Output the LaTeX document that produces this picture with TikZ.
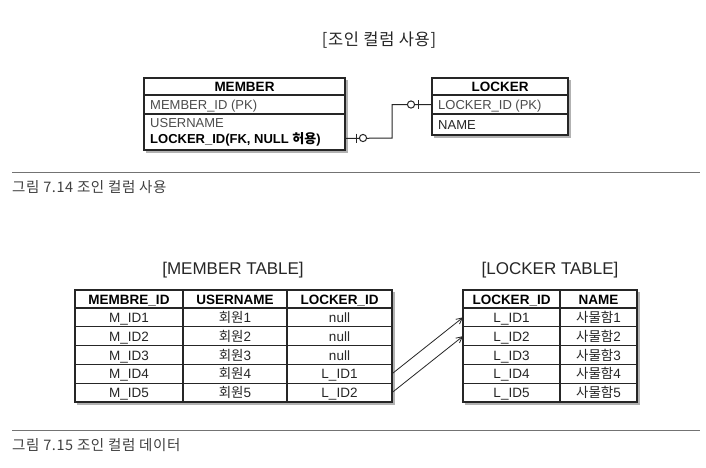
\documentclass[tikz,border=0pt]{standalone}
\usepackage{fontspec}
\setmainfont{Liberation Sans}
\newfontfamily\kr{Noto Sans CJK KR}
\newfontfamily\krcap{Noto Sans CJK KR}[LetterSpace=4]
\usetikzlibrary{arrows.meta}
\tikzset{
  box/.style={draw=black!85, line width=1.1pt, fill=white, inner sep=0pt, outer sep=0pt},
  tcell/.style={box, minimum height=18.8pt, text height=11pt, text depth=1pt, font=\fontsize{13.5}{13.5}\selectfont, text=black!85},
  hcell/.style={tcell, minimum height=18pt, font=\fontsize{13.5}{13.5}\selectfont\bfseries, text=black},
  ehead/.style={box, minimum height=17pt, text height=11pt, text depth=1pt, font=\fontsize{13.5}{13.5}\selectfont\bfseries},
  etext/.style={anchor=west, inner sep=0pt, text height=11pt, text depth=1pt, font=\fontsize{13}{13}\selectfont, text=black!70},
  shadow/.style={fill=black!30},
  sep/.style={draw=black!55, line width=1.3pt},
  caption/.style={anchor=west, inner sep=0pt, font=\krcap\fontsize{14.5}{14.5}\selectfont, text=black!75},
  title/.style={inner sep=0pt, font=\fontsize{17}{17}\selectfont, text=black!85},
  conn/.style={draw=black!85, line width=1pt},
  arr/.style={draw=black!85, line width=0.8pt, -{Straight Barb[length=6pt,width=6pt]}},
}
\begin{document}
\begin{tikzpicture}[x=1pt,y=-1pt]
\useasboundingbox (0,0) rectangle (706,467);
\fill[white] (0,0) rectangle (706,467);

% ---------- Figure 7.14 ----------
\node[title, font=\krcap\fontsize{16.5}{16.5}\selectfont] (t1) at (379,40) {[조인 컬럼 사용]};

\fill[shadow] (146,80) rectangle (347.5,152.5);
\fill[shadow] (434,80) rectangle (570.5,137.5);

\node[ehead, minimum width=201pt] (memh) at (244.5,86.5) {MEMBER};
\node[box, minimum width=201pt, minimum height=19pt] (memr1) at (244.5,104.5) {};
\node[box, minimum width=201pt, minimum height=36pt] (memr2) at (244.5,132) {};
\node[etext] (memid) at (150,104.5) {MEMBER\_ID (PK)};
\node[etext] (usern) at (150,122) {USERNAME};
\node[etext, text=black, font=\fontsize{13}{13}\selectfont\bfseries] (fk) at (150,138.5) {LOCKER\_ID(FK, NULL {\kr 허용})};

\node[ehead, minimum width=136pt] (lkh) at (500,86.5) {LOCKER};
\node[box, minimum width=136pt, minimum height=19pt] (lkr1) at (500,104.5) {};
\node[box, minimum width=136pt, minimum height=21pt] (lkr2) at (500,124.5) {};
\node[etext] (lkid) at (438,104.5) {LOCKER\_ID (PK)};
\node[etext, text=black!85] (lkname) at (438,124.5) {NAME};

\coordinate (bend) at (392,138);
\draw[conn] (memr2.east |- fk) -- (bend) |- (lkr1.west);
% zero-or-one markers
\draw[conn] (356,133.5) -- (356,142.5);
\draw[conn, fill=white] (363,138) circle (3.6);
\draw[conn, fill=white] (411,104.5) circle (3.6);
\draw[conn] (418,100) -- (418,109);

\draw[sep] (12,172.5) -- (700,172.5);
\node[caption] (cap1) at (12,187.5) {그림 7.14 조인 컬럼 사용};

% ---------- Figure 7.15 ----------
\node[title] (t2) at (233,270) {[MEMBER TABLE]};
\node[title] (t3) at (550,270) {[LOCKER TABLE]};

\fill[shadow] (77,292) rectangle (394.5,404.5);
\fill[shadow] (465,292) rectangle (639.5,404.5);

% member table
\node[hcell, minimum width=108pt] (m-0-1) at (129,299) {MEMBRE\_ID};
\node[hcell, minimum width=104pt] (m-0-2) at (235,299) {USERNAME};
\node[hcell, minimum width=105pt] (m-0-3) at (339.5,299) {LOCKER\_ID};
\foreach \r/\a/\b/\c in {1/M\_ID1/1/null, 2/M\_ID2/2/null, 3/M\_ID3/3/null, 4/M\_ID4/4/L\_ID1, 5/M\_ID5/5/L\_ID2}{
  \node[tcell, minimum width=108pt] (m-\r-1) at (129,{308+18.8*(\r-0.5)}) {\a};
  \node[tcell, minimum width=104pt] (m-\r-2) at (235,{308+18.8*(\r-0.5)}) {{\kr 회원}\b};
  \node[tcell, minimum width=105pt] (m-\r-3) at (339.5,{308+18.8*(\r-0.5)}) {\c};
}

% locker table
\node[hcell, minimum width=97pt] (l-0-1) at (511.5,299) {LOCKER\_ID};
\node[hcell, minimum width=77pt] (l-0-2) at (598.5,299) {NAME};
\foreach \r in {1,...,5}{
  \node[tcell, minimum width=97pt] (l-\r-1) at (511.5,{308+18.8*(\r-0.5)}) {L\_ID\r};
  \node[tcell, minimum width=77pt] (l-\r-2) at (598.5,{308+18.8*(\r-0.5)}) {{\kr 사물함}\r};
}

\draw[arr] (m-4-3.east) -- (l-1-1.west);
\draw[arr] (m-5-3.east) -- (l-2-1.west);

\draw[sep] (12,430.5) -- (700,430.5);
\node[caption] (cap2) at (12,445.5) {그림 7.15 조인 컬럼 데이터};
\end{tikzpicture}
\end{document}
